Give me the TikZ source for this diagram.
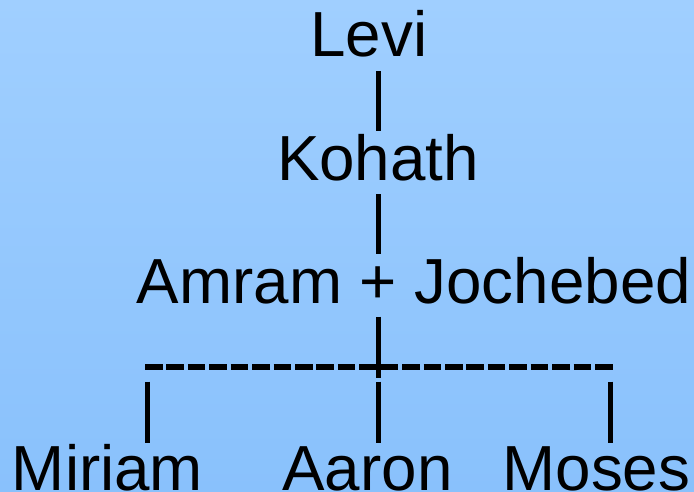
\documentclass[tikz,border=0pt]{standalone}
\usepackage{fontspec}
\setmainfont{Liberation Sans}
\definecolor{bgtop}{RGB}{160,207,255}
\definecolor{bgbot}{RGB}{137,193,252}
\begin{document}
\begin{tikzpicture}[x=1pt,y=-1pt,
  person/.style={inner sep=0pt,outer sep=0pt,anchor=base west,font=\fontsize{63.7}{63.7}\selectfont},
  bar/.style={line width=4.7pt,black},
  dashline/.style={line width=6pt,black,dash pattern=on 17.5pt off 3.93pt}]
\shade[top color=bgtop,bottom color=bgbot] (0,0) rectangle (694,491);
\useasboundingbox (0,0) rectangle (694,491);
\node[person] (levi) at (310.4,56.7) {Levi};
\node[person] (kohath) at (277,180.7) {Kohath};
\node[person] (amram) at (136.9,303.3) {Amram + Jochebed};
\node[person] (miriam) at (12,490) {Miriam};
\node[person] (aaron) at (282.5,490) {Aaron};
\node[person] (moses) at (502.6,490) {Moses};
\coordinate (b1t) at (378.3,71);
\coordinate (b1b) at (378.3,131);
\coordinate (b2t) at (378.3,194);
\coordinate (b2b) at (378.3,254);
\coordinate (b3t) at (378.3,316.7);
\coordinate (b3b) at (378.3,377.7);
\coordinate (hl) at (145,367);
\coordinate (hr) at (612.7,367);
\coordinate (l1) at (147.3,381.7);
\coordinate (l2) at (147.3,442.7);
\coordinate (m1) at (378.3,381.7);
\coordinate (m2) at (378.3,442.7);
\coordinate (r1) at (610.3,381.7);
\coordinate (r2) at (610.3,442.7);
\draw[bar] (b1t) -- (b1b);
\draw[bar] (b2t) -- (b2b);
\draw[bar] (b3t) -- (b3b);
\draw[dashline] (hl) -- (hr);
\draw[bar] (l1) -- (l2);
\draw[bar] (m1) -- (m2);
\draw[bar] (r1) -- (r2);
\end{tikzpicture}
\end{document}
